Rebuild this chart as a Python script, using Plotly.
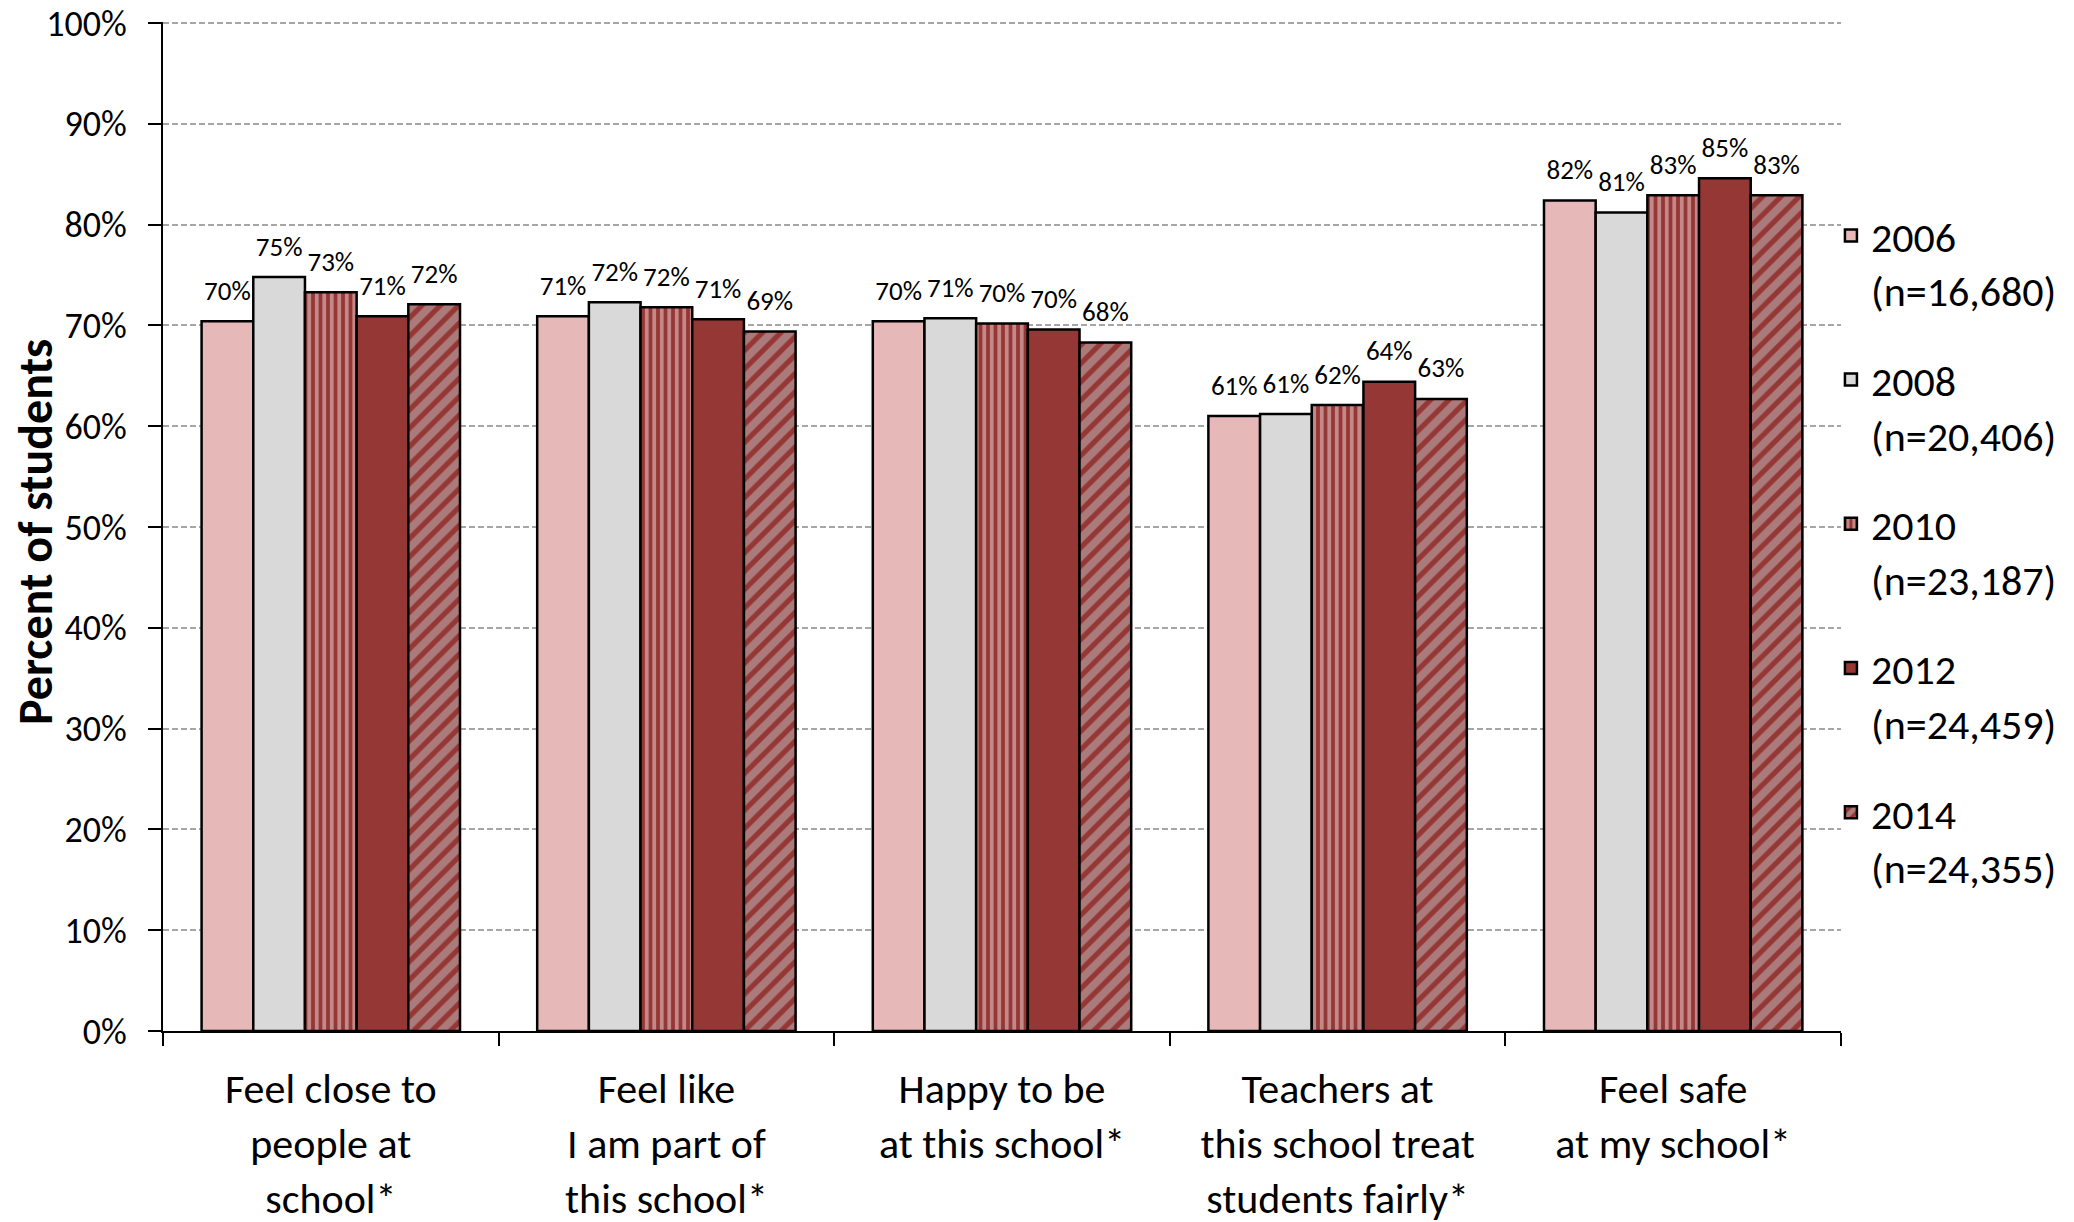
import plotly.graph_objects as go

categories = [
    "Feel close to<br>people at<br>school*",
    "Feel like<br>I am part of<br>this school*",
    "Happy to be<br>at this school*",
    "Teachers at<br>this school treat<br>students fairly*",
    "Feel safe<br>at my school*",
]

years = ["2006", "2008", "2010", "2012", "2014"]
sample_sizes = ["16,680", "20,406", "23,187", "24,459", "24,355"]

pct_2006 = [70.4, 70.9, 70.4, 61.0, 82.4]
pct_2008 = [74.8, 72.3, 70.7, 61.2, 81.2]
pct_2010 = [73.3, 71.8, 70.2, 62.1, 82.9]
pct_2012 = [70.9, 70.6, 69.6, 64.4, 84.6]
pct_2014 = [72.1, 69.4, 68.3, 62.7, 82.9]

series = [pct_2006, pct_2008, pct_2010, pct_2012, pct_2014]

FONT = "Calibri, Carlito, Lato, sans-serif"
DARK_RED = "#953735"
GAP = 0.23

styles = [
    dict(color="#e6b9b8"),
    dict(color="#d9d9d9"),
    dict(color=DARK_RED, pattern=dict(shape="|", fgcolor="#f2dcdb", bgcolor=DARK_RED,
                                       size=7.5, solidity=0.5)),
    dict(color=DARK_RED),
    dict(color=DARK_RED, pattern=dict(shape="/", fgcolor="#bfbfbf", bgcolor=DARK_RED,
                                       size=13, solidity=0.6)),
]

fig = go.Figure()
for yr, n, vals, st in zip(years, sample_sizes, series, styles):
    marker = dict(line=dict(color="black", width=2.5), **st)
    fig.add_trace(go.Bar(
        x=categories, y=vals,
        name="{}<br>(n={})".format(yr, n),
        legendgroup=yr, offsetgroup=yr, alignmentgroup="all",
        marker=marker,
        hoverinfo="y",
    ))

# value labels, grouped the same way as the bars
for yr, vals in zip(years, series):
    fig.add_trace(go.Scatter(
        x=categories, y=vals,
        mode="markers+text",
        offsetgroup=yr, alignmentgroup="all",
        marker=dict(size=22, opacity=0),
        texttemplate="%{y:.0f}%",
        textposition="top center",
        textfont=dict(family=FONT, size=27, color="black"),
        cliponaxis=False,
        showlegend=False, hoverinfo="skip",
    ))

fig.update_layout(
    width=2074, height=1222,
    margin=dict(l=155, r=241, t=14, b=199),
    paper_bgcolor="white", plot_bgcolor="white",
    barmode="group", bargap=GAP, bargroupgap=0,
    scattermode="group", scattergap=GAP,
    font=dict(family=FONT, color="black"),
    legend=dict(
        x=0.994, xanchor="left", y=0.822, yanchor="top",
        font=dict(family=FONT, size=42, color="black"),
        valign="top", tracegroupgap=32,
        bgcolor="rgba(0,0,0,0)",
    ),
    showlegend=True,
)

fig.update_yaxes(
    range=[0, 100.1], tick0=0, dtick=10, ticksuffix="%",
    showgrid=True, gridcolor="#a6a6a6", griddash="6px,3px", gridwidth=2,
    showline=True, linecolor="black", linewidth=2,
    ticks="outside", ticklen=13, tickwidth=2, tickcolor="black",
    ticklabelstandoff=14, ticklabeloverflow="allow",
    tickfont=dict(family=FONT, size=36, color="black"),
    zeroline=False, automargin=False,
)

fig.update_xaxes(
    showline=True, linecolor="black", linewidth=2,
    ticks="outside", tickson="boundaries", ticklen=13, tickwidth=2, tickcolor="black",
    ticklabelstandoff=20,
    tickfont=dict(family=FONT, size=42, color="black"),
    automargin=False,
)

fig.add_annotation(
    text="<b>Percent of students</b>", textangle=-90,
    xref="paper", yref="paper", x=-0.076, y=0.495,
    xanchor="center", yanchor="middle",
    showarrow=False, font=dict(family=FONT, size=48, color="black"),
)

fig.write_html("out.html")
